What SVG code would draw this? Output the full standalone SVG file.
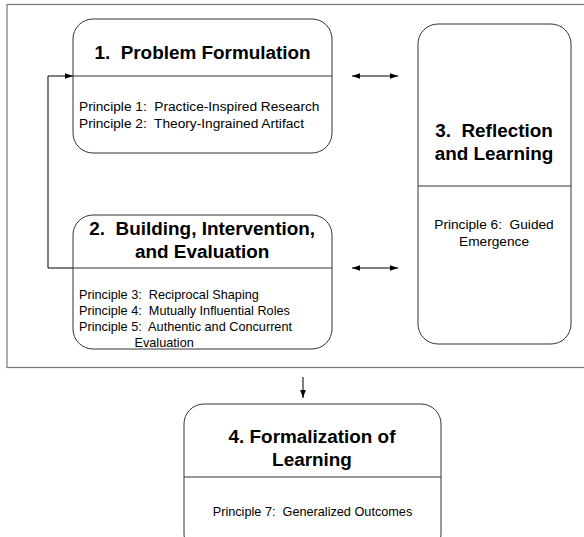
<svg xmlns="http://www.w3.org/2000/svg" width="584" height="537" viewBox="0 0 584 537" xml:space="preserve">
<style>
.box{fill:#fff;stroke:#333;stroke-width:1}
.div{stroke:#333;stroke-width:1}
.t{font-family:"Liberation Sans",Arial,sans-serif;font-weight:bold;font-size:18.9px;fill:#000;white-space:pre}
.p{font-family:"Liberation Sans",Arial,sans-serif;font-size:12.7px;fill:#000;white-space:pre}
.pl{font-family:"Liberation Sans",Arial,sans-serif;font-size:13.7px;fill:#000;white-space:pre}
.c{fill:none;stroke:#000;stroke-width:1}
</style>
<defs>
<marker id="ah" viewBox="0 0 10 10" refX="10" refY="5" markerWidth="10" markerHeight="8" markerUnits="userSpaceOnUse" orient="auto-start-reverse"><path d="M0,1.5 L10,5 L0,8.5 z" fill="#000"/></marker>
</defs>
<rect width="584" height="537" fill="#fff"/>
<rect x="7" y="4.5" width="600" height="363" fill="none" stroke="#777" stroke-width="1.2"/>
<g id="connectors">
<polyline class="c" points="73,268 48,268 48,76 73,76" marker-end="url(#ah)"/>
<line class="c" x1="352" y1="76" x2="398" y2="76" marker-start="url(#ah)" marker-end="url(#ah)"/>
<line class="c" x1="352" y1="268" x2="398" y2="268" marker-start="url(#ah)" marker-end="url(#ah)"/>
<line class="c" x1="303" y1="377" x2="303" y2="398" marker-end="url(#ah)"/>
</g>
<g id="node1">
<rect class="box" x="73" y="19" width="259" height="134" rx="20"/>
<line class="div" x1="73" y1="76" x2="332" y2="76"/>
<text class="t" x="202.5" y="58.5" text-anchor="middle">1.  Problem Formulation</text>
<text class="pl" x="79" y="110.5">Principle 1:  Practice-Inspired Research</text>
<text class="pl" x="79" y="128">Principle 2:  Theory-Ingrained Artifact</text>
</g>
<g id="node2">
<rect class="box" x="73" y="215" width="259" height="134" rx="20"/>
<line class="div" x1="73" y1="268" x2="332" y2="268"/>
<text class="t" x="202.2" y="234.5" text-anchor="middle">2.  Building, Intervention,</text>
<text class="t" x="202.2" y="258" text-anchor="middle">and Evaluation</text>
<text class="p" x="79" y="299">Principle 3:  Reciprocal Shaping</text>
<text class="p" x="79" y="315">Principle 4:  Mutually Influential Roles</text>
<text class="p" x="79" y="331">Principle 5:  Authentic and Concurrent</text>
<text class="p" x="134.5" y="346.5">Evaluation</text>
</g>
<g id="node3">
<rect class="box" x="418" y="24" width="153" height="320" rx="20"/>
<line class="div" x1="418" y1="186" x2="571" y2="186"/>
<text class="t" x="494" y="137" text-anchor="middle">3.  Reflection</text>
<text class="t" x="494" y="159.5" text-anchor="middle">and Learning</text>
<text class="pl" x="494" y="229" text-anchor="middle">Principle 6:  Guided</text>
<text class="pl" x="494" y="245.5" text-anchor="middle">Emergence</text>
</g>
<g id="node4">
<rect class="box" x="184" y="404" width="257" height="150" rx="20"/>
<line class="div" x1="184" y1="477" x2="441" y2="477"/>
<text class="t" x="312" y="443" text-anchor="middle">4. Formalization of</text>
<text class="t" x="312" y="466" text-anchor="middle">Learning</text>
<text class="p" x="312.5" y="516" text-anchor="middle">Principle 7:  Generalized Outcomes</text>
</g>
</svg>
